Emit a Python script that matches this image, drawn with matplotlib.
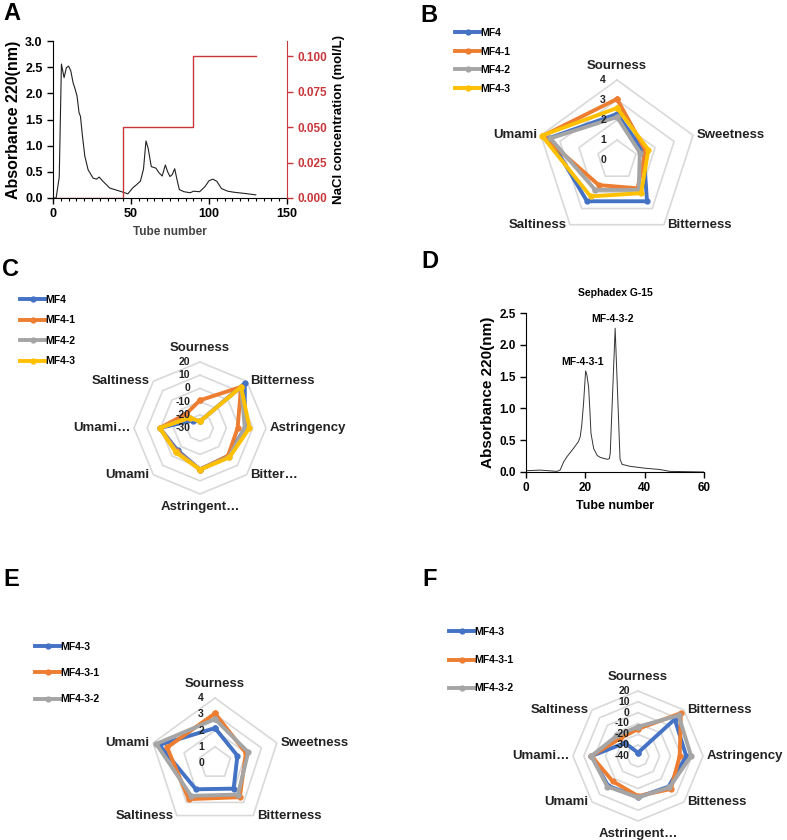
import numpy as np
import matplotlib
matplotlib.use('Agg')
import matplotlib.pyplot as plt
from matplotlib.ticker import MultipleLocator

plt.rcParams['font.family'] = ['Liberation Sans', 'DejaVu Sans']
plt.rcParams['font.weight'] = 'bold'

# ---------------- data ----------------
# Panel A: ion-exchange elution profile
tube_a = [0, 2, 4, 5.4, 7.1, 8.6, 10, 11.4, 12.9, 14, 15.4, 16.7, 17.6, 18.9, 20.4,
          22.5, 25.7, 27.9, 29.6, 32, 36.4, 42.9, 48, 51, 53, 56, 58, 59.6, 61,
          63, 66, 68, 70, 72, 73.5, 75, 76.5, 78, 79.5, 81, 84, 88, 90, 94,
          97.5, 100, 102.5, 105, 108, 112, 116, 122, 130]
abs_a = [0, 0.0, 0.4, 2.56, 2.3, 2.49, 2.52, 2.43, 2.2, 2.1, 1.95, 1.63, 1.56, 1.18, 0.8,
         0.54, 0.38, 0.36, 0.4, 0.32, 0.19, 0.13, 0.08, 0.19, 0.24, 0.32, 0.55, 1.09, 0.95,
         0.6, 0.57, 0.48, 0.42, 0.63, 0.5, 0.41, 0.45, 0.56, 0.35, 0.16, 0.12, 0.1, 0.13, 0.12,
         0.22, 0.33, 0.36, 0.32, 0.18, 0.13, 0.11, 0.09, 0.06]
nacl_tube = [2, 45, 90, 130]
nacl_conc = [0.0, 0.05, 0.1, 0.1]

# Panel D: Sephadex G-15 profile
tube_d = [0, 4.8, 10.4, 11.5, 12.7, 13.8, 16, 17.7, 18.3, 18.8, 19.4, 20.1, 20.5, 21.1,
          21.5, 21.9, 22.8, 24, 25, 26.5, 27.5, 28.1, 28.4, 30.05, 31.7, 32.4, 35, 40,
          45, 48.5, 60]
abs_d = [0.02, 0.03, 0.01, 0.03, 0.16, 0.24, 0.37, 0.48, 0.56, 0.74, 1.08, 1.59, 1.53, 1.34,
         1.0, 0.61, 0.37, 0.26, 0.23, 0.21, 0.2, 0.21, 0.3, 2.26, 0.2, 0.12, 0.09, 0.06,
         0.04, 0.01, 0.0]
peak_labels_d = ['MF-4-3-1', 'MF-4-3-2']
peak_pos_d = [(20.1, 1.59), (30.05, 2.26)]

# Panel B
cats_b = ['Sourness', 'Sweetness', 'Bitterness', 'Saltiness', 'Umami']
names_b = ['MF4', 'MF4-1', 'MF4-2', 'MF4-3']
mf4_b = [2.3, 1.4, 2.55, 2.55, 3.55]
mf4_1_b = [3.05, 1.5, 1.75, 1.55, 3.9]
mf4_2_b = [2.15, 1.2, 1.85, 1.85, 3.5]
mf4_3_b = [2.6, 1.65, 2.05, 2.25, 3.95]

# Panel C
cats_c = ['Sourness', 'Bitterness', 'Astringency', 'Bitter…', 'Astringent…',
          'Umami', 'Umami…', 'Saltiness']
names_c = ['MF4', 'MF4-1', 'MF4-2', 'MF4-3']
mf4_c = [-25, 18, 4, 0, 1.5, -6, 0.5, -22]
mf4_1_c = [-9, 14, -1.5, 0, 1.5, -5, 0.5, -15]
mf4_2_c = [-25, 14, 4, 1, 1.5, -4.5, 0.5, -19]
mf4_3_c = [-25, 14, 7.5, 1.5, 1.5, -4, 0.5, -19]

# Panel E
cats_e = ['Sourness', 'Sweetness', 'Bitterness', 'Saltiness', 'Umami']
names_e = ['MF4-3', 'MF4-3-1', 'MF4-3-2']
mf43_e = [2.15, 1.45, 1.95, 2.0, 3.6]
mf43_1_e = [3.05, 2.0, 2.6, 2.75, 3.1]
mf43_2_e = [2.7, 2.15, 2.4, 2.5, 3.8]

# Panel F
cats_f = ['Sourness', 'Bitterness', 'Astringency', 'Bitteness', 'Astringent…',
          'Umami', 'Umami…', 'Saltiness']
names_f = ['MF4-3', 'MF4-3-1', 'MF4-3-2']
mf43_f = [-37, 8, 4.5, 0, -2, -1, 3, -23]
mf43_1_f = [-15, 16, -1.5, 3, -3, -7, 3, -17]
mf43_2_f = [-13, 13, 9, 1, -2, 0, 3, -13]

BLUE, ORANGE, GRAY, YELLOW = '#4472C4', '#ED7D31', '#A5A5A5', '#FFC000'
RED = '#C8373A'

W, H = 787, 840
fig = plt.figure(figsize=(W / 100, H / 100), dpi=100)


def px_axes(x0, y0, x1, y1, **kw):
    return fig.add_axes([x0 / W, 1 - y1 / H, (x1 - x0) / W, (y1 - y0) / H], **kw)


def style_axes(ax, size):
    ax.tick_params(direction='out', length=4, width=1, labelsize=size)
    for lab in ax.get_xticklabels() + ax.get_yticklabels():
        lab.set_fontweight('bold')


# ---------------- Panel A ----------------
axA = px_axes(53, 41, 287, 198)
axA.plot(tube_a, abs_a, color='#222222', lw=0.8)
axA.set_xlim(0, 150)
axA.set_ylim(0, 3.0)
axA.xaxis.set_major_locator(MultipleLocator(50))
axA.xaxis.set_minor_locator(MultipleLocator(5))
axA.yaxis.set_major_locator(MultipleLocator(0.5))
axA.yaxis.set_major_formatter(matplotlib.ticker.FormatStrFormatter('%.1f'))
axA.tick_params(which='minor', direction='out', length=2.5, width=0.8)
axA.spines['top'].set_visible(False)
axA.spines['right'].set_visible(False)
style_axes(axA, 9)
axA.set_xlabel('Tube number', fontsize=8.5, fontweight='bold', color='#444444', labelpad=4)
axA.set_ylabel('Absorbance 220(nm)', fontsize=11.5, fontweight='bold', labelpad=3)
twA = axA.twinx()
twA.plot(nacl_tube, nacl_conc, color=RED, lw=1.0, drawstyle='steps-post')
twA.set_ylim(0, 0.1106)
twA.yaxis.set_major_locator(MultipleLocator(0.025))
twA.yaxis.set_major_formatter(matplotlib.ticker.FormatStrFormatter('%.3f'))
for s in ['top', 'left', 'bottom']:
    twA.spines[s].set_visible(False)
twA.spines['right'].set_color(RED)
twA.tick_params(axis='y', colors=RED, direction='out', length=4, width=1, labelsize=8.5)
for lab in twA.get_yticklabels():
    lab.set_fontweight('bold')
twA.set_ylabel('NaCl concentration (mol/L)', fontsize=9.5, fontweight='bold', labelpad=4)

# ---------------- Panel D ----------------
axD = px_axes(526, 313, 704, 472)
axD.plot(tube_d, abs_d, color='#333333', lw=0.7)
axD.set_xlim(0, 60)
axD.set_ylim(0, 2.5)
axD.xaxis.set_major_locator(MultipleLocator(20))
axD.yaxis.set_major_locator(MultipleLocator(0.5))
axD.yaxis.set_major_formatter(matplotlib.ticker.FormatStrFormatter('%.1f'))
axD.spines['top'].set_visible(False)
axD.spines['right'].set_visible(False)
style_axes(axD, 8.5)
axD.set_xlabel('Tube number', fontsize=9, fontweight='bold', labelpad=4)
axD.set_ylabel('Absorbance 220(nm)', fontsize=11, fontweight='bold', labelpad=3)
axD.set_title('Sephadex G-15', fontsize=7.5, fontweight='bold', pad=12)
for lab, (px, py) in zip(peak_labels_d, peak_pos_d):
    axD.annotate(lab, xy=(px, py), xytext=(-2, 3), textcoords='offset points',
                 ha='center', va='bottom', fontsize=7.5, fontweight='bold')


# ---------------- radar helper ----------------
def radar(cx, cy, R, cats, series, names, colors, rmin, rmax, step,
          rlabel_dx, leg_xy, leg_spacing):
    ax = fig.add_axes([(cx - R) / W, 1 - (cy + R) / H, 2 * R / W, 2 * R / H],
                      projection='polar')
    ax.set_theta_zero_location('N')
    ax.set_theta_direction(-1)
    ax.set_ylim(rmin, rmax)
    ax.set_axis_off()
    n = len(cats)
    ang = np.linspace(0, 2 * np.pi, n, endpoint=False)
    angc = np.append(ang, ang[0])
    rings = np.arange(rmin + step, rmax + step / 2, step)
    for r in rings:
        ax.plot(angc, [r] * (n + 1), color='#D9D9D9', lw=1.2, zorder=1, clip_on=False)
    handles = []
    for vals, col in zip(series, colors):
        v = list(vals) + [vals[0]]
        ln, = ax.plot(angc, v, color=col, lw=2.8, marker='o', ms=3.5,
                      solid_joinstyle='round', zorder=3, clip_on=False)
        handles.append(ln)
    # radial tick labels
    for r in np.arange(rmin, rmax + step / 2, step):
        ax.annotate('%g' % r, xy=(0, r), xytext=(rlabel_dx, 0), textcoords='offset points',
                    ha='right', va='center', fontsize=7.5, fontweight='bold',
                    color='#222222', zorder=5, annotation_clip=False)
    # category labels
    for a, c in zip(ang, cats):
        sx, sy = np.sin(a), np.cos(a)
        if abs(sx) < 0.1:
            ha = 'center'
            va = 'bottom' if sy > 0 else 'top'
            off = (0, 6 if sy > 0 else -5)
        else:
            ha = 'left' if sx > 0 else 'right'
            va = 'center'
            off = (2.5 if sx > 0 else -2.5, 0)
        ax.annotate(c, xy=(a, rmax), xytext=off, textcoords='offset points',
                    ha=ha, va=va, fontsize=9.5, fontweight='bold', color='#222222',
                    annotation_clip=False)
    fig.legend(handles, names, loc='upper left',
               bbox_to_anchor=(leg_xy[0] / W, 1 - leg_xy[1] / H),
               frameon=False, borderpad=0, borderaxespad=0, handlelength=2.4,
               handletextpad=0.05, labelspacing=leg_spacing,
               prop={'size': 7.5, 'weight': 'bold'})
    return ax


radar(617, 160, 80, cats_b, [mf4_b, mf4_1_b, mf4_2_b, mf4_3_b], names_b,
      [BLUE, ORANGE, GRAY, YELLOW], 0, 4, 1, -8, (455, 28), 0.82)
radar(200, 428, 66, cats_c, [mf4_c, mf4_1_c, mf4_2_c, mf4_3_c], names_c,
      [BLUE, ORANGE, GRAY, YELLOW], -30, 20, 10, -7, (20, 295), 1.0)
radar(215, 763, 65, cats_e, [mf43_e, mf43_1_e, mf43_2_e], names_e,
      [BLUE, ORANGE, GRAY], 0, 4, 1, -8, (35, 642), 1.55)
radar(638, 756, 65, cats_f, [mf43_f, mf43_1_f, mf43_2_f], names_f,
      [BLUE, ORANGE, GRAY], -40, 20, 10, -6, (449, 627), 1.75)

# panel letters
for letter, (x, y) in zip('ABCDEF', [(3, 14), (420, 15), (2, 270), (421, 262),
                                      (3, 580), (422, 580)]):
    fig.text(x / W, 1 - y / H, letter, fontsize=17, fontweight='bold',
             ha='left', va='center')

fig.savefig('out.png', dpi=100)
